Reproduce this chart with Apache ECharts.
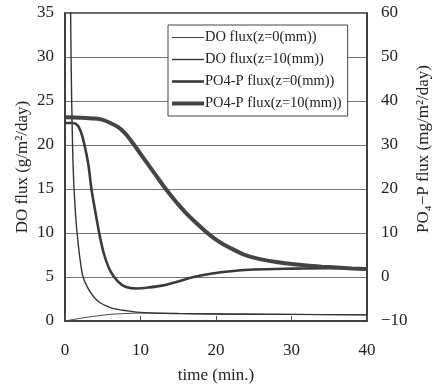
<!DOCTYPE html>
<html>
<head>
<meta charset="utf-8">
<script src="https://cdn.jsdelivr.net/npm/echarts@6/dist/echarts.min.js"></script>
<style>
  html, body { margin: 0; padding: 0; background: #fff; }
  #flux-chart { width: 446px; height: 389px; }
</style>
</head>
<body>
<div id="flux-chart"></div>
<script>
// DO flux (left axis, g/m2/day)
const doZ0Time = [0, 2, 4, 6, 8, 10, 15, 20, 30, 40];
const doZ0Value = [0, 0.3, 0.55, 0.75, 0.85, 0.9, 0.85, 0.8, 0.75, 0.7];

const doZ10Time = [0.6, 0.8, 1.0, 1.2, 1.6, 2.3, 3.0, 4.3, 6.1, 8.3, 10.5, 15, 20, 30, 40];
const doZ10Value = [50, 30, 20, 15, 10, 5.3, 3.8, 2.3, 1.5, 1.15, 0.95, 0.85, 0.8, 0.75, 0.7];

// PO4-P flux (right axis, mg/m2/day)
const poZ0Time = [0, 1, 1.7, 2.2, 2.6, 3.1, 3.5, 4.0, 4.6, 5.2, 6.0, 7.0, 8.0, 9.5, 11, 13, 15, 17, 19.5, 22, 25, 30, 35, 40];
const poZ0Value = [35, 35, 34.4, 32.5, 29.9, 25.5, 20, 15, 9.4, 5, 1.4, -1.0, -2.2, -2.6, -2.4, -1.9, -1.0, 0, 0.8, 1.3, 1.7, 1.9, 2.0, 2.0];

const poZ10Time = [0, 2, 4, 5, 6, 7, 8, 9, 10, 11, 12, 13, 14, 15, 16, 17, 18, 19, 20, 21, 22, 23, 24, 25, 26, 28, 30, 32, 34, 36, 38, 40];
const poZ10Value = [36.3, 36.2, 36.0, 35.7, 35.0, 34.1, 32.6, 30.4, 28.0, 25.6, 23.2, 20.8, 18.6, 16.5, 14.6, 12.9, 11.3, 9.8, 8.5, 7.4, 6.5, 5.65, 4.9, 4.4, 4.0, 3.4, 2.95, 2.6, 2.35, 2.15, 1.95, 1.8];

const xTicks = [0, 10, 20, 30, 40];
const seriesNames = ["DO flux(z=0(mm))", "DO flux(z=10(mm))", "PO4-P flux(z=0(mm))", "PO4-P flux(z=10(mm))"];
const lineWidths = [1, 1.4, 2.6, 4];
const lineColors = ["#444", "#333", "#3a3a3a", "#444"];

const zip = (xs, ys) => xs.map((x, i) => [x, ys[i]]);
const serif = "Liberation Serif";

const chart = echarts.init(document.getElementById("flux-chart"));
chart.setOption({
  animation: false,
  textStyle: { fontFamily: serif, color: "#222" },
  grid: {
    left: 65,
    right: 79,
    top: 13,
    bottom: 68,
    show: true,
    borderColor: "#333",
    borderWidth: 1.5,
  },
  legend: {
    data: seriesNames.map((name, i) => ({
      name,
      lineStyle: { width: lineWidths[i], color: lineColors[i] },
    })),
    orient: "vertical",
    left: 168,
    top: 25,
    itemWidth: 32,
    itemHeight: 10,
    itemGap: 7,
    padding: [5, 6, 5, 2],
    backgroundColor: "#fff",
    borderColor: "#444",
    borderWidth: 1,
    itemStyle: { opacity: 0 },
    textStyle: { fontFamily: serif, fontSize: 14.5, color: "#222", padding: [0, 0, 0, -4] },
  },
  xAxis: {
    type: "value",
    min: 0,
    max: 40,
    interval: 10,
    name: "time (min.)",
    nameLocation: "middle",
    nameGap: 46,
    nameMoveOverlap: false,
    nameTextStyle: { fontSize: 17, color: "#222" },
    axisLine: { lineStyle: { color: "#333", width: 1.5 } },
    axisTick: { inside: true, length: 5, lineStyle: { color: "#555" } },
    axisLabel: {
      fontSize: 17,
      color: "#222",
      margin: 21,
      customValues: xTicks,
    },
    splitLine: { show: false },
  },
  yAxis: [
    {
      type: "value",
      min: 0,
      max: 35,
      interval: 5,
      name: "DO flux (g/m²/day)",
      nameLocation: "middle",
      nameGap: 34,
      nameMoveOverlap: false,
      nameTextStyle: { fontSize: 17, color: "#222" },
      axisLine: { show: true, lineStyle: { color: "#333", width: 1.5 } },
      axisTick: { show: false },
      axisLabel: { fontSize: 17, color: "#222", margin: 11 },
      splitLine: { lineStyle: { color: "#777", width: 1 } },
    },
    {
      type: "value",
      min: -10,
      max: 60,
      interval: 10,
      position: "right",
      name: "PO₄−P flux (mg/m²/day)",
      nameLocation: "middle",
      nameGap: 48,
      nameMoveOverlap: false,
      nameTextStyle: { fontSize: 17, color: "#222", padding: [0, 0, 0, 36] },
      axisLine: { show: true, lineStyle: { color: "#333", width: 1.5 } },
      axisTick: { show: false },
      axisLabel: {
        fontSize: 17,
        color: "#222",
        margin: 14,
        align: "left",
        formatter: (v) => (v < 0 ? "−" + Math.abs(v) : String(v)),
      },
      splitLine: { show: false },
    },
  ],
  series: [
    {
      name: seriesNames[0],
      type: "line",
      yAxisIndex: 0,
      symbol: "none",
      smooth: 0.3,
      data: zip(doZ0Time, doZ0Value),
      lineStyle: { color: lineColors[0], width: lineWidths[0] },
      itemStyle: { color: lineColors[0] },
    },
    {
      name: seriesNames[1],
      type: "line",
      yAxisIndex: 0,
      symbol: "none",
      smooth: 0.3,
      data: zip(doZ10Time, doZ10Value),
      lineStyle: { color: lineColors[1], width: lineWidths[1] },
      itemStyle: { color: lineColors[1] },
    },
    {
      name: seriesNames[2],
      type: "line",
      yAxisIndex: 1,
      symbol: "none",
      smooth: 0.3,
      data: zip(poZ0Time, poZ0Value),
      lineStyle: { color: lineColors[2], width: lineWidths[2] },
      itemStyle: { color: lineColors[2] },
    },
    {
      name: seriesNames[3],
      type: "line",
      yAxisIndex: 1,
      symbol: "none",
      smooth: 0.3,
      data: zip(poZ10Time, poZ10Value),
      lineStyle: { color: lineColors[3], width: lineWidths[3] },
      itemStyle: { color: lineColors[3] },
    },
  ],
});
</script>
</body>
</html>
